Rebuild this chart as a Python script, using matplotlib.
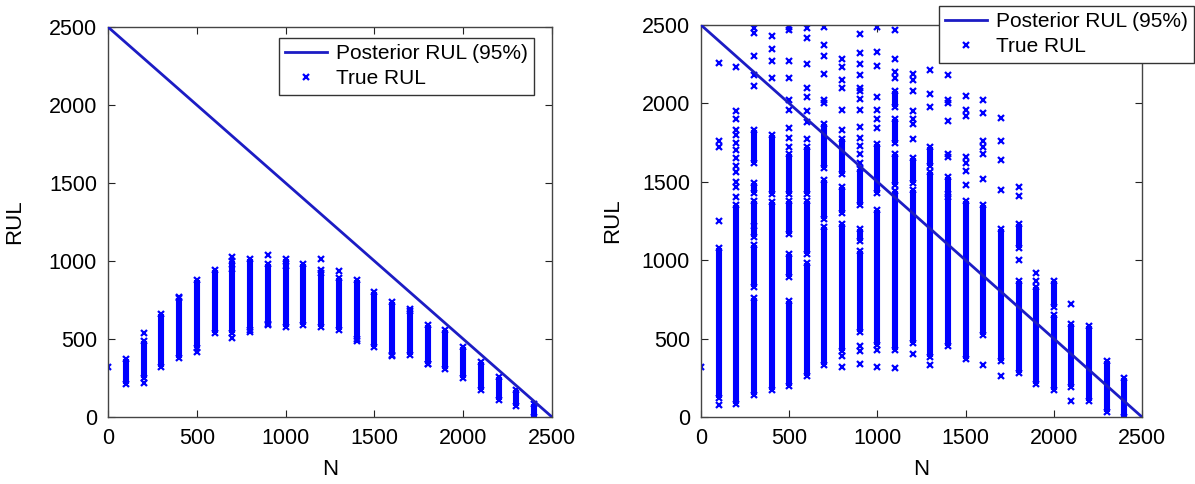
import matplotlib
matplotlib.use('Agg')
import matplotlib.pyplot as plt
import numpy as np

plt.rcParams['font.family'] = ['Liberation Sans', 'DejaVu Sans']

# posterior RUL line (same in both panels)
line_n = [0, 2500]
line_rul = [2500, 0]

# left panel: dense columns of true RUL (lower / upper end) and single markers
left_seg_n = [100, 200, 300, 400, 500, 600, 700, 800, 900, 1000, 1100, 1200,
              1300, 1400, 1500, 1600, 1700, 1800, 1900, 2000, 2100, 2200, 2300, 2400]
left_seg_lo = [210, 250, 322, 376, 440, 540, 540, 560, 590, 580, 590, 575,
               555, 500, 450, 400, 400, 340, 310, 250, 170, 110, 70, 0]
left_seg_hi = [370, 490, 660, 760, 880, 940, 1000, 1010, 980, 1010, 980, 940,
               890, 880, 800, 740, 690, 590, 555, 450, 355, 255, 175, 85]
left_pt_n = [0, 200, 200, 400, 500, 700, 700, 700, 800, 900, 900, 1000,
             1200, 1200, 1300, 1400, 1600, 1700, 1800]
left_pt_v = [318, 540, 216, 771, 419, 505, 950, 1025, 545, 1040, 595, 970,
             1015, 920, 935, 485, 390, 680, 340]

# right panel
right_seg_n = [100, 200, 300, 300, 300, 300, 300, 400, 400, 500, 500, 500, 500,
               600, 600, 600, 700, 700, 700, 800, 800, 800, 900, 900, 900,
               1000, 1000, 1100, 1100, 1100, 1100, 1200, 1200, 1300, 1300,
               1400, 1400, 1500, 1600, 1700, 1800, 1800, 1900, 2000, 2000,
               2100, 2200, 2300, 2400]
right_seg_lo = [120, 85, 140, 830, 1150, 1430, 1620, 170, 1420, 200, 890, 1170, 1420,
                260, 1040, 1420, 330, 1260, 1590, 420, 1300, 1550, 540, 1120, 1350,
                460, 1430, 430, 1480, 1750, 1980, 470, 1490, 380, 1600,
                450, 1420, 370, 520, 360, 280, 1080, 210, 170, 700,
                190, 100, 30, 0]
right_seg_hi = [1080, 1350, 760, 1100, 1380, 1490, 1830, 1370, 1800, 740, 1040, 1380, 1680,
                980, 1380, 1720, 1210, 1510, 1870, 1230, 1470, 1770, 1060, 1200, 1580,
                1320, 1740, 1440, 1680, 1900, 2080, 1450, 1650, 1560, 1720,
                1400, 1530, 1380, 1350, 1200, 870, 1230, 830, 650, 870,
                590, 580, 360, 250]
right_pt_n = [0,
              100, 100, 100, 100, 100,
              200, 200, 200, 200, 200, 200, 200, 200, 200, 200, 200, 200, 200,
              300, 300, 300, 300, 300, 300,
              400, 400, 400, 400,
              500, 500, 500, 500, 500, 500, 500, 500, 500,
              600, 600, 600, 600, 600, 600, 600, 600,
              700, 700, 700, 700, 700, 700,
              800, 800, 800, 800, 800, 800, 800, 800,
              900, 900, 900, 900, 900, 900, 900, 900, 900, 900, 900, 900, 900, 900, 900, 900,
              1000, 1000, 1000, 1000, 1000, 1000, 1000, 1000, 1000,
              1100, 1100, 1100, 1100, 1100,
              1200, 1200, 1200, 1200, 1200, 1200, 1200, 1200,
              1300, 1300, 1300, 1300,
              1400, 1400, 1400, 1400, 1400, 1400,
              1500, 1500, 1500, 1500, 1500, 1500, 1500,
              1600, 1600, 1600, 1600, 1600, 1600, 1600,
              1700, 1700, 1700, 1700, 1700,
              1800, 1800, 1800,
              1900, 1900,
              2100, 2100]
right_pt_v = [319,
              75, 1250, 1720, 1760, 2260,
              1400, 1470, 1500, 1560, 1600, 1650, 1700, 1750, 1800, 1830, 1900, 1950, 2230,
              1220, 2110, 2180, 2300, 2450, 2480,
              2160, 2270, 2350, 2430,
              1720, 1780, 1840, 1960, 2020, 2160, 2270, 2470, 2490,
              1770, 1880, 1950, 2040, 2100, 2250, 2420, 2480,
              2000, 2020, 2190, 2300, 2370, 2490,
              320, 390, 1830, 1960, 2100, 2150, 2230, 2280,
              340, 420, 450, 1620, 1680, 1730, 1780, 1850, 1960, 2030, 2080, 2100, 2180, 2250, 2320, 2440,
              320, 430, 1840, 1900, 1960, 2040, 2240, 2330, 2490,
              310, 2160, 2200, 2280, 2470,
              400, 1770, 1870, 1900, 1950, 2080, 2150, 2190,
              330, 1980, 2060, 2210,
              1660, 1680, 1890, 2000, 2020, 2180,
              1480, 1570, 1620, 1660, 1920, 1960, 2050,
              330, 1520, 1680, 1720, 1760, 1940, 2020,
              260, 1450, 1640, 1760, 1910,
              1000, 1410, 1470,
              870, 920,
              100, 720]

blue = '#0000ff'


def draw_panel(ax, seg_n, seg_lo, seg_hi, pt_n, pt_v, ylabelpad):
    ax.plot(line_n, line_rul, color='#1c1cc4', lw=2.0, label='Posterior RUL (95%)', zorder=3)
    ax.vlines(seg_n, seg_lo, seg_hi, color=blue, lw=4.4, zorder=2)
    xs = list(pt_n) + list(seg_n) + list(seg_n)
    ys = list(pt_v) + list(seg_lo) + list(seg_hi)
    ax.plot(xs, ys, ls='none', marker='x', ms=5, mew=1.6, color=blue,
            label='True RUL', zorder=2)
    ax.set_xlim(0, 2500)
    ax.set_ylim(0, 2500)
    ax.set_xticks([0, 500, 1000, 1500, 2000, 2500])
    ax.set_yticks([0, 500, 1000, 1500, 2000, 2500])
    ax.tick_params(direction='in', top=True, right=True, length=5, width=0.8,
                   labelsize=15.5, pad=8, colors='#222222', labelcolor='black')
    for s in ax.spines.values():
        s.set_color('#444444')
        s.set_linewidth(1.0)
    ax.set_xlabel('N', fontsize=16, labelpad=7)
    ax.set_ylabel('RUL', fontsize=16, labelpad=ylabelpad)


fig = plt.figure(figsize=(11.95, 4.84), dpi=100)
ax1 = fig.add_axes([108 / 1195, 1 - 417 / 484, 444 / 1195, 390 / 484])
ax2 = fig.add_axes([701 / 1195, 1 - 417 / 484, 441 / 1195, 392 / 484])

draw_panel(ax1, left_seg_n, left_seg_lo, left_seg_hi, left_pt_n, left_pt_v, 17)
draw_panel(ax2, right_seg_n, right_seg_lo, right_seg_hi, right_pt_n, right_pt_v, 13)

for ax, (x1, y1) in [(ax1, (534, 38)), (ax2, (1194, 6))]:
    leg = ax.legend(loc='upper right', bbox_to_anchor=(x1 / 1195, 1 - y1 / 484),
                    bbox_transform=fig.transFigure, borderaxespad=0,
                    fancybox=False, framealpha=1, edgecolor='#333333',
                    fontsize=15, handlelength=2.0, handletextpad=0.45,
                    borderpad=0.3, labelspacing=0.3)
    leg.get_frame().set_linewidth(1.0)

fig.savefig('out.png', dpi=100)
